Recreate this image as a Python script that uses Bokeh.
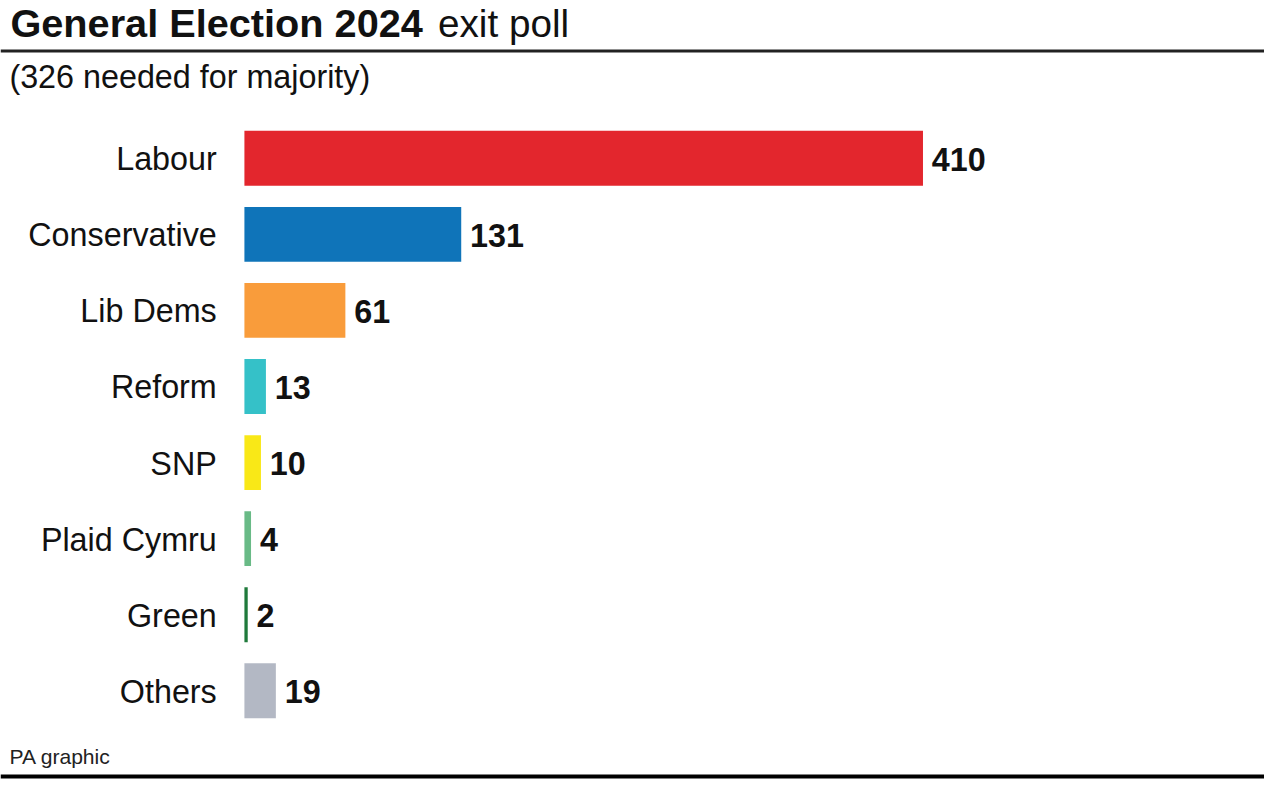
from bokeh.plotting import figure
from bokeh.models import Range1d, Label, BoxAnnotation, ColumnDataSource
from bokeh.core.properties import value
from bokeh.embed import file_html
from bokeh.resources import INLINE

# ---- data ----
parties = ["Labour", "Conservative", "Lib Dems", "Reform", "SNP", "Plaid Cymru", "Green", "Others"]
seats = [410, 131, 61, 13, 10, 4, 2, 19]
colors = ["#E3262D", "#0F74B9", "#F99C3B", "#35C1C8", "#F9E817", "#69BA86", "#1F7A3B", "#B3B8C4"]
title_bold = "General Election 2024"
title_light = "exit poll"
subtitle = "(326 needed for majority)"
source_note = "PA graphic"

# ---- layout: designed on a 1280x795 grid, scaled to the figure ----
REF_W, REF_H = 1280, 795
W, H = 1264, 779
KX, KY = W / REF_W, H / REF_H
FONT = "Liberation Sans"
X0 = 247            # where the bars start (reference px)
PPS = 1.676         # px per seat
ROW0 = 161          # centre of first row from top
PITCH = 77.64
BAR_H = 56 / PITCH


def fx(x):
    return x * KX


def fy(y_from_top):
    return H - y_from_top * KY


def fs(px):
    return f"{px * KY:.1f}px"


p = figure(width=W, height=H, output_backend="svg", toolbar_location=None,
           x_axis_location=None, y_axis_location=None, min_border=0,
           x_range=Range1d(-X0 / PPS, (REF_W - X0) / PPS),
           y_range=Range1d((REF_H - ROW0) / PITCH, -ROW0 / PITCH))
p.outline_line_color = None
p.xgrid.visible = False
p.ygrid.visible = False
p.background_fill_color = "white"
p.border_fill_color = "white"

rows = list(range(len(parties)))
src = ColumnDataSource(dict(party=parties, seats=seats, color=colors, row=rows,
                            label=[str(s) for s in seats], zero=[0] * len(parties)))

p.hbar(y="row", left="zero", right="seats", height=BAR_H, fill_color="color",
       line_color=None, source=src)

p.text(x="zero", y="row", text="party", source=src, text_align="right",
       text_baseline="middle", x_offset=-28 * KX, y_offset=1,
       text_font=value(FONT), text_font_size=fs(33), text_color="#111111")

p.text(x="seats", y="row", text="label", source=src, text_align="left",
       text_baseline="middle", x_offset=9 * KX, y_offset=1,
       text_font=value(FONT), text_font_size=fs(33), text_font_style="bold",
       text_color="#111111")

# titles
p.add_layout(Label(x=fx(10), y=fy(23), x_units="screen", y_units="screen", text=title_bold,
                   text_font=FONT, text_font_size=fs(40.5), text_font_style="bold",
                   text_color="#111111", text_baseline="middle", text_align="left"))
p.add_layout(Label(x=fx(443), y=fy(23), x_units="screen", y_units="screen", text=title_light,
                   text_font=FONT, text_font_size=fs(39.5),
                   text_color="#111111", text_baseline="middle", text_align="left"))
p.add_layout(BoxAnnotation(top=fy(50), bottom=fy(53), top_units="screen", bottom_units="screen",
                           fill_color="#222222", fill_alpha=1, line_color=None))
p.add_layout(Label(x=fx(9), y=fy(78), x_units="screen", y_units="screen", text=subtitle,
                   text_font=FONT, text_font_size=fs(33),
                   text_color="#111111", text_baseline="middle", text_align="left"))

# footer
p.add_layout(Label(x=fx(9), y=fy(772), x_units="screen", y_units="screen", text=source_note,
                   text_font=FONT, text_font_size=fs(21.5),
                   text_color="#222222", text_baseline="middle", text_align="left"))
p.add_layout(BoxAnnotation(top=fy(790), bottom=fy(794), top_units="screen", bottom_units="screen",
                           fill_color="#000000", fill_alpha=1, line_color=None))

open("out.html", "w").write(file_html(p, INLINE))
